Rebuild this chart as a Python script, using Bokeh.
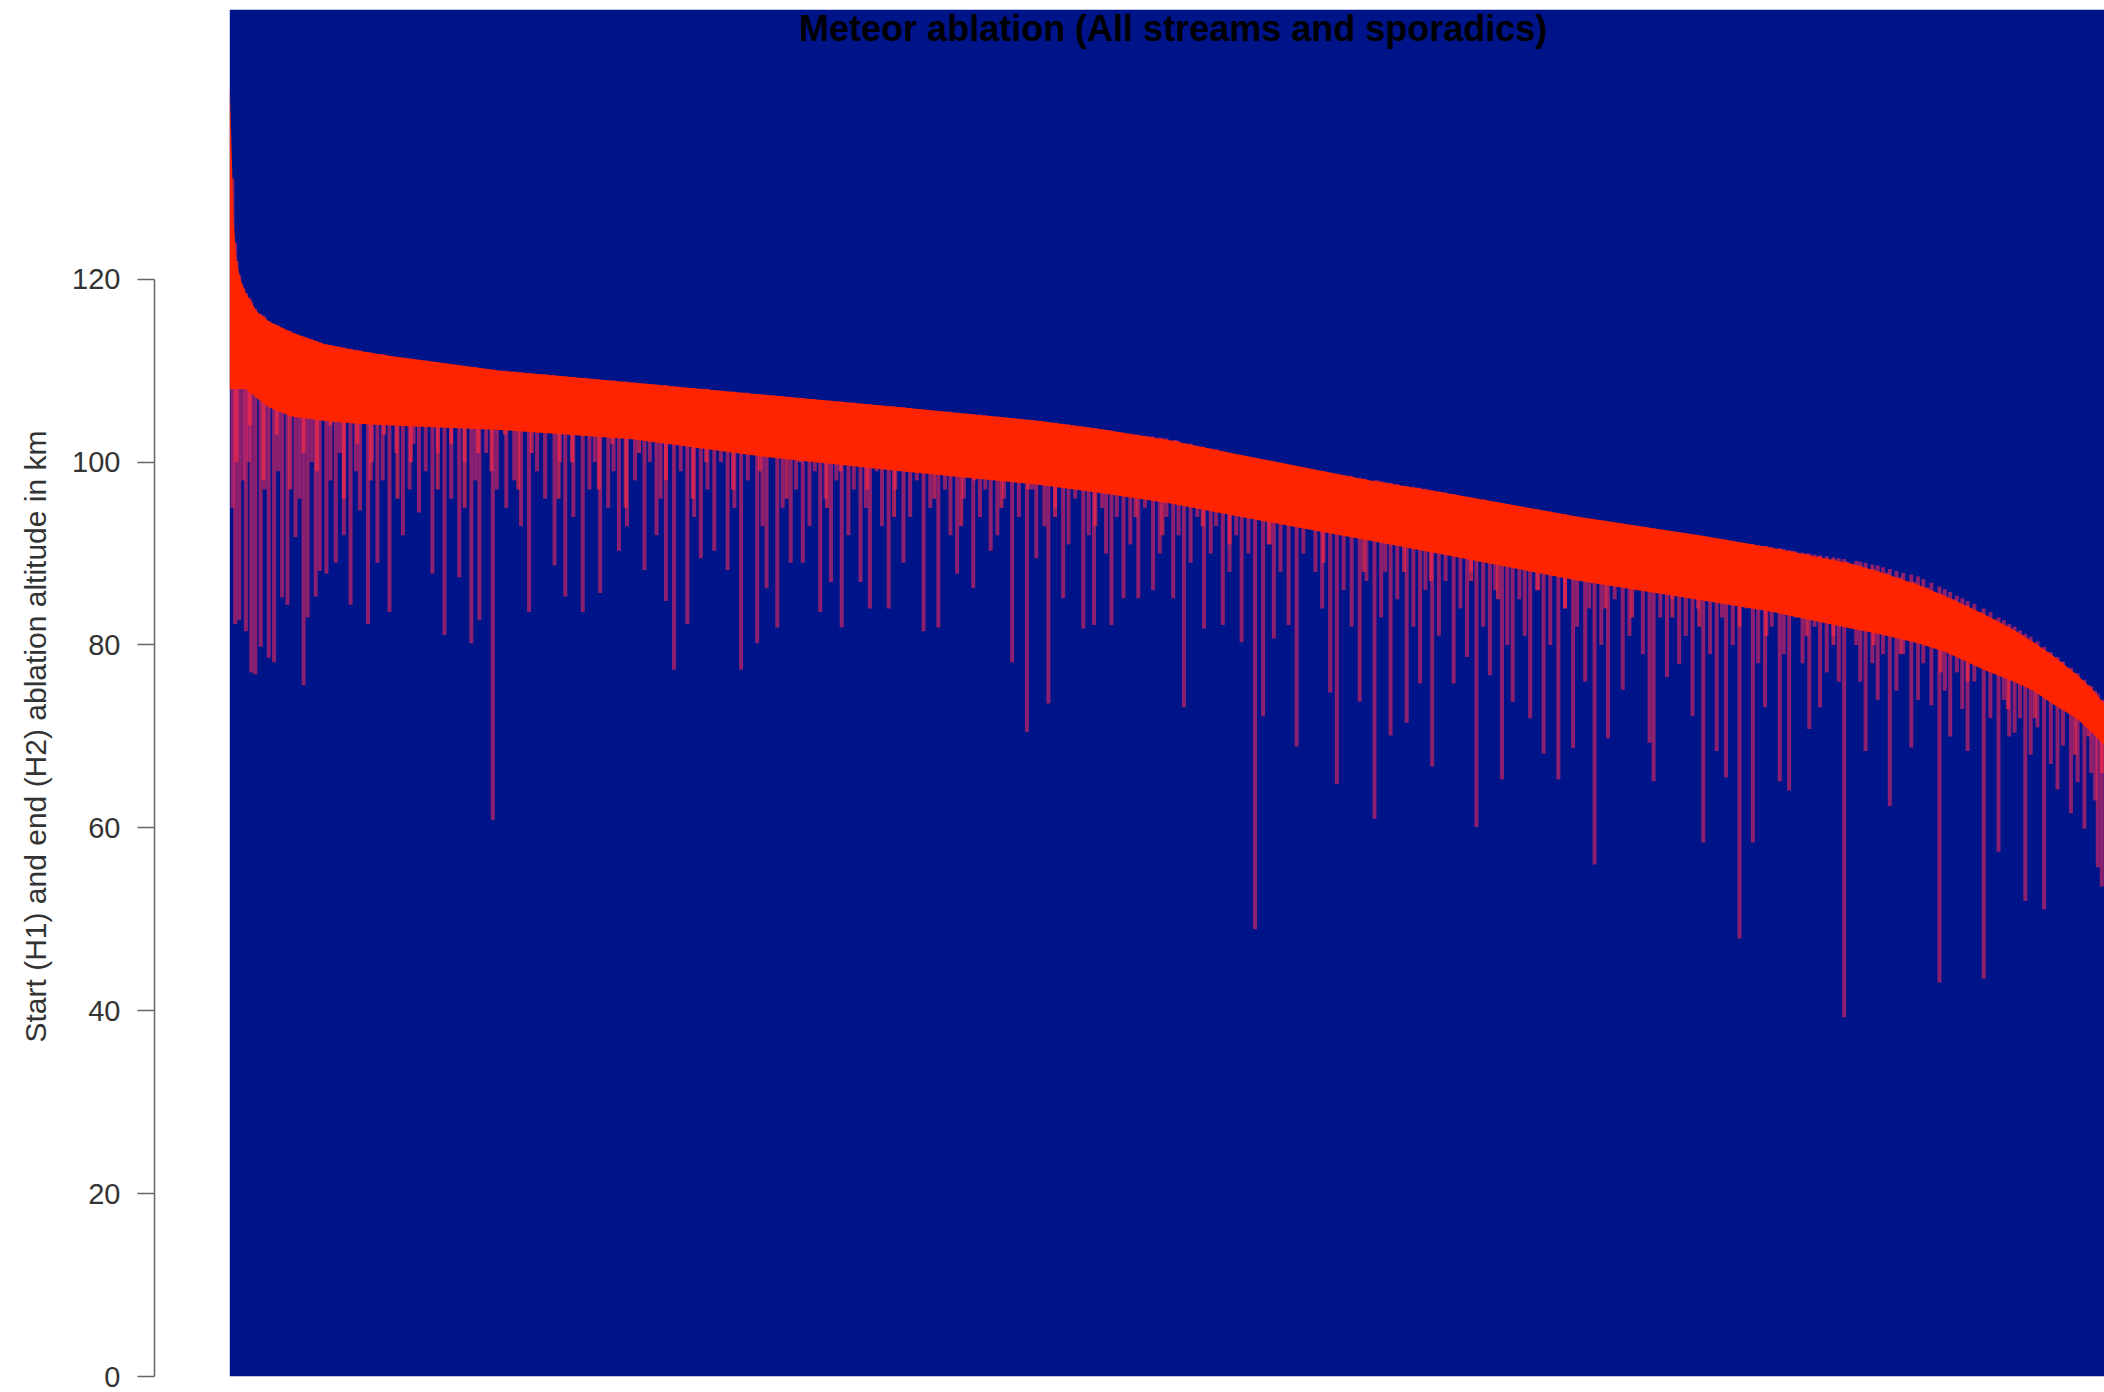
from bokeh.plotting import figure
from bokeh.models import Range1d, FixedTicker, LinearAxis, BoxAnnotation, Label, Title
from bokeh.embed import file_html
from bokeh.resources import INLINE

# ---- data ----
# meteors ranked by start altitude; rank axis is not labelled
band_rank = [0, 1, 2, 3, 5, 8, 12, 20, 29, 46, 71, 95, 120, 202, 300, 403, 500, 604, 650, 700,
             750, 805, 850, 900, 1006, 1100, 1150, 1208, 1229, 1258, 1279, 1307, 1329, 1344,
             1359, 1376, 1387, 1397]
# start altitude H1 (upper envelope)
band_top = [141, 136, 131, 126, 122, 120, 118.5, 116.5, 115.4, 114.2, 112.9, 112.2, 111.6,
            110.0, 108.7, 107.3, 106.0, 104.5, 103.6, 102.4, 100.9, 99.3, 98.0, 96.8, 94.0,
            91.9, 90.6, 88.9, 88.0, 86.6, 85.3, 83.4, 81.7, 80.3, 78.8, 76.8, 75.3, 73.5]
# end altitude H2 of the dense bulk of meteors
band_core = [108, 108, 108, 108, 108, 108, 108, 107, 106, 105, 104.5, 104.2, 104, 103.5,
             102.5, 100.5, 99, 97.5, 96.6, 95.5, 94.1, 92.6, 91.4, 90, 87, 84.8, 83.6, 81.8,
             81.2, 80.2, 79.2, 77.3, 76, 75, 73.5, 72, 70.5, 69]

# meteors ending a little below the bulk: rank, start H1, end H2
fringe_rank = list(range(5, 1400, 10))
fringe_start = [
    122, 117.8, 116.0, 115.0, 114.3, 113.7, 113.2, 112.8, 112.5, 112.2,
    112.0, 111.7, 111.5, 111.3, 111.1, 110.9, 110.7, 110.5, 110.3, 110.1,
    110.0, 109.8, 109.7, 109.6, 109.4, 109.3, 109.2, 109.0, 108.9, 108.8,
    108.6, 108.5, 108.4, 108.2, 108.1, 108.0, 107.8, 107.7, 107.6, 107.4,
    107.3, 107.1, 107.0, 106.9, 106.7, 106.6, 106.5, 106.3, 106.2, 106.1,
    105.9, 105.8, 105.6, 105.5, 105.3, 105.2, 105.0, 104.9, 104.7, 104.6,
    104.5, 104.3, 104.1, 103.9, 103.7, 103.5, 103.2, 103.0, 102.8, 102.6,
    102.4, 102.0, 101.7, 101.4, 101.0, 100.7, 100.4, 100.0, 99.7, 99.5,
    99.2, 99.0, 98.7, 98.5, 98.2, 98.0, 97.7, 97.4, 97.2, 96.9,
    96.7, 96.4, 96.1, 95.9, 95.6, 95.3, 95.0, 94.8, 94.5, 94.3,
    94.0, 93.8, 93.6, 93.3, 93.1, 92.9, 92.6, 92.4, 92.2, 91.9,
    91.7, 91.5, 91.2, 91.0, 90.8, 90.5, 90.3, 90.0, 89.7, 89.4,
    89.1, 88.7, 88.3, 87.9, 87.4, 86.9, 86.3, 85.6, 85.0, 84.3,
    83.6, 82.8, 82.0, 81.1, 80.2, 79.2, 78.1, 76.9, 75.6, 73.9,
]
fringe_end = [
    100, 104, 98, 103, 97, 101, 99, 104, 96, 102,
    98, 103, 96, 100, 104, 97, 102, 95, 101, 99,
    103, 97, 101, 104, 96, 100, 103, 97, 102, 95,
    101, 104, 98, 102, 96, 100, 103, 97, 101, 99,
    102, 96, 100, 103, 95, 99, 102, 97, 100, 94,
    99, 102, 96, 100, 93, 98, 101, 95, 99, 97,
    100, 94, 98, 101, 93, 97, 99, 94, 98, 92,
    96, 99, 93, 97, 91, 95, 97, 91, 95, 93,
    95, 89, 93, 95, 88, 92, 94, 88, 92, 87,
    91, 93, 87, 91, 85, 89, 91, 86, 89, 84,
    88, 90, 84, 88, 83, 87, 89, 83, 87, 82,
    86, 88, 82, 86, 81, 85, 87, 81, 84, 80,
    84, 86, 80, 84, 79, 82, 83, 77, 80, 76,
    79, 78, 73, 76, 72, 74, 73, 68, 70, 66,
]

# individual meteors whose trails reach lower: rank, start H1, end H2
tail_rank = [
    2, 4, 7, 10, 12, 14, 16, 19, 23, 26, 29, 33, 36, 39, 43, 49, 52, 55, 58, 61, 64, 67, 72, 75, 79, 82, 85, 90, 94, 97,
    103, 106, 110, 114, 119, 124, 129, 134, 137, 141, 146, 151, 155, 160, 165, 171, 175, 180, 183, 186, 191, 196, 199,
    206, 212, 217, 223, 229, 235, 242, 246, 250, 256, 263, 268, 272, 276, 282, 286, 290, 296, 302, 309, 313, 318, 321,
    325, 331, 336, 341, 346, 351, 356, 361, 366, 371, 376, 381, 386, 393, 397, 400,
    408, 412, 418, 422, 427, 432, 436, 440, 444, 448, 452, 456, 461, 465, 470, 474, 477, 482, 486, 491, 496, 502, 507,
    512, 517, 522, 528, 533, 537, 542, 547, 550, 554, 559, 563, 567, 572, 577, 583, 588, 594, 598, 601,
    607, 610, 615, 621, 625, 630, 636, 640, 644, 650, 653, 657, 661, 666, 671, 677, 682, 688, 693, 698, 703, 707, 711,
    716, 721, 726, 731, 735, 740, 745, 750, 754, 759, 764, 770, 774, 778, 783, 789, 795, 800,
    809, 814, 820, 825, 830, 836, 842, 847, 853, 858, 861, 865, 870, 877, 882, 887, 891, 896, 901, 906, 912, 917, 922,
    925, 929, 934, 939, 943, 948, 952, 956, 961, 965, 969, 974, 979, 984, 990, 995, 1001, 1004,
    1010, 1013, 1017, 1022, 1027, 1032, 1038, 1043, 1048, 1053, 1058, 1061, 1066, 1071, 1075, 1080, 1085, 1090, 1094,
    1098, 1103, 1108, 1112, 1115, 1120, 1125, 1130, 1135, 1139, 1144, 1149, 1155, 1158, 1162, 1167, 1172, 1177, 1181,
    1185, 1190, 1195, 1199, 1203,
    1212, 1215, 1219, 1224, 1228, 1232, 1237, 1242, 1247, 1253, 1258, 1262, 1268, 1274, 1278, 1282, 1287, 1291, 1295,
    1300, 1307, 1312, 1318, 1322, 1326, 1330, 1334, 1338, 1342, 1347, 1352, 1357, 1362, 1366, 1372, 1377, 1382, 1387,
    1390, 1392, 1395,
]
tail_start = [
    131, 124, 120.5, 119, 118.5, 118, 117.5, 116.8, 116.2, 115.8, 115.4, 115.1, 114.9, 114.7, 114.4, 114.0, 113.8,
    113.6, 113.5, 113.4, 113.2, 113.1, 112.9, 112.8, 112.7, 112.6, 112.5, 112.4, 112.3, 112.2,
    112.0, 111.9, 111.8, 111.8, 111.6, 111.5, 111.4, 111.3, 111.2, 111.2, 111.1, 111.0, 110.9, 110.8, 110.7, 110.6,
    110.5, 110.4, 110.4, 110.3, 110.2, 110.1, 110.0,
    109.9, 109.9, 109.8, 109.7, 109.6, 109.6, 109.5, 109.4, 109.4, 109.3, 109.2, 109.1, 109.1, 109.0, 108.9, 108.9,
    108.8, 108.8, 108.7, 108.6, 108.5, 108.5, 108.4, 108.4, 108.3, 108.2, 108.1, 108.1, 108.0, 108.0, 107.9, 107.8,
    107.7, 107.7, 107.6, 107.5, 107.4, 107.4, 107.3,
    107.2, 107.2, 107.1, 107.0, 107.0, 106.9, 106.8, 106.8, 106.7, 106.7, 106.6, 106.6, 106.5, 106.4, 106.4, 106.3,
    106.3, 106.2, 106.1, 106.1, 106.0, 106.0, 105.9, 105.8, 105.7, 105.7, 105.6, 105.5, 105.5, 105.4, 105.3, 105.3,
    105.2, 105.2, 105.1, 105.0, 105.0, 104.9, 104.8, 104.7, 104.6, 104.6, 104.5,
    104.4, 104.4, 104.3, 104.2, 104.1, 104.0, 103.8, 103.8, 103.7, 103.6, 103.5, 103.4, 103.3, 103.2, 103.1, 103.0,
    102.9, 102.8, 102.7, 102.6, 102.4, 102.3, 102.1, 102.0, 101.8, 101.6, 101.5, 101.3, 101.2, 101.0, 100.8, 100.7,
    100.5, 100.4, 100.2, 100.0, 99.9, 99.8, 99.6, 99.5, 99.3,
    99.1, 99.0, 98.8, 98.7, 98.6, 98.4, 98.3, 98.1, 98.0, 97.9, 97.8, 97.7, 97.6, 97.4, 97.3, 97.2, 97.1, 96.9, 96.8,
    96.6, 96.5, 96.3, 96.2, 96.1, 96.0, 95.9, 95.7, 95.6, 95.5, 95.4, 95.3, 95.1, 95.0, 94.9, 94.8, 94.7, 94.6, 94.4,
    94.3, 94.1, 94.0,
    93.9, 93.8, 93.7, 93.6, 93.5, 93.4, 93.3, 93.1, 93.0, 92.9, 92.8, 92.7, 92.6, 92.5, 92.4, 92.3, 92.2, 92.0, 91.9,
    91.8, 91.7, 91.6, 91.5, 91.5, 91.4, 91.2, 91.1, 91.0, 90.9, 90.8, 90.7, 90.6, 90.5, 90.4, 90.2, 90.1, 90.0, 89.9,
    89.8, 89.7, 89.6, 89.5, 89.4,
    89.2, 89.1, 89.0, 88.8, 88.7, 88.5, 88.3, 88.1, 87.9, 87.7, 87.5, 87.2, 86.8, 86.4, 86.1, 85.8, 85.4, 85.1, 84.8,
    84.5, 84.0, 83.6, 83.0, 82.7, 82.3, 82.0, 81.6, 81.2, 80.9, 80.4, 79.8, 79.2, 78.7, 78.2, 77.5, 76.9, 76.2, 75.5,
    75.0, 74.7, 74.0,
]
tail_end = [
    95, 82.3, 82.7, 98, 81.5, 100, 77, 76.8, 79.8, 97, 78.6, 78.1, 99, 85.2, 84.4, 91.8, 96, 75.6, 83, 100, 85.3, 88.1,
    87.8, 98, 89, 101, 92, 84.4, 99, 94.7,
    82.3, 100, 89, 98, 83.6, 101, 92, 97, 102, 94.5, 99, 87.8, 101, 81.1, 96, 87.4, 100, 80.2, 98, 82.7, 101, 60.9, 97,
    95, 98, 93, 83.6, 99, 96, 88.7, 100, 85.3, 94, 83.6, 97, 100, 85.7, 95, 99, 90.3, 93, 98, 88.2, 100, 92, 96, 84.8,
    77.3, 99, 82.3, 94, 89.5, 97, 90.3, 100, 88.2, 95, 77.3, 98, 80.2, 93, 86.2,
    81.9, 95, 89, 97, 89, 93, 99, 83.6, 96, 86.9, 98, 81.9, 92, 97, 86.9, 95, 84, 99, 93, 84, 97, 89, 94, 98, 81.5, 95,
    81.9, 97, 92, 87.8, 96, 99, 86.2, 94, 97, 90.3, 92, 96, 78.1, 94, 70.5, 97, 89.5,
    93, 73.6, 95, 85.1, 91, 96, 81.8, 92, 82.2, 95, 90, 82.2, 94, 85.1, 91, 85.1, 95, 86, 90, 94, 85.1, 92, 73.2, 89,
    94, 81.8, 90, 93, 82.2, 88, 92, 80.3, 90, 48.9, 72.2, 91, 80.7, 88, 82.2, 68.9, 90,
    88, 84, 74.8, 64.8, 86, 82, 73.8, 87, 61, 83, 88, 70.1, 85, 71.5, 82, 75.8, 86, 66.7, 81, 87, 75.8, 84, 78.7, 88,
    60.1, 82, 76.7, 86, 65.3, 80, 73.8, 85, 81, 72, 86, 68.1, 80, 65.3, 84, 68.7, 82,
    76, 84, 56, 80, 69.8, 85, 75.1, 81, 86, 79, 69.3, 65.1, 83, 76.5, 85, 77.9, 81, 72.2, 84, 58.4, 79, 68.4, 83, 65.5,
    80, 47.9, 84, 58.4, 78, 73.2, 82, 65.1, 79, 64.1, 83, 78, 70.8, 82, 73.2, 77, 81, 76, 39.3,
    80, 76, 68.4, 78, 74, 79, 62.4, 75, 79, 68.8, 74, 78, 73.4, 43.1, 75, 70, 77, 73, 68.4, 76, 43.5, 72, 57.4, 74, 70,
    70.4, 72, 52, 68, 71, 51.1, 67, 64.2, 69, 61.6, 65, 59.9, 66, 63, 55.7, 53.6,
]
y_ticks = [0, 20, 40, 60, 80, 100, 120]

title_text = "Meteor ablation (All streams and sporadics)"
ylabel_text = "Start (H1) and end (H2) ablation altitude in km"

# ---- styling ----
BLUE = "#00148A"
RED = "#FF2400"
TAIL = "#FF2A5A"
FRINGE = "#FF2A40"
FONT = "Liberation Sans"

p = figure(width=2104, height=1392, output_backend="svg", toolbar_location=None,
           x_range=Range1d(-56.1, 1397), y_range=Range1d(0, 149.5),
           x_axis_location=None, y_axis_location=None, min_border_left=154,
           min_border_right=0, min_border_top=9, min_border_bottom=16)
p.background_fill_color = "white"
p.border_fill_color = "white"
p.outline_line_color = None
p.grid.visible = False

p.add_layout(BoxAnnotation(left=band_rank[0], fill_color=BLUE, fill_alpha=1.0,
                           line_color=None, level="underlay"))

p.segment(x0=tail_rank, y0=tail_end, x1=tail_rank, y1=tail_start,
          line_color=TAIL, line_alpha=0.55, line_width=4)
p.segment(x0=fringe_rank, y0=fringe_end, x1=fringe_rank, y1=fringe_start,
          line_color=FRINGE, line_alpha=0.65, line_width=4)
p.varea(x=band_rank, y1=band_core, y2=band_top, fill_color=RED, fill_alpha=1.0)

# tick axis (R style: line only over the tick span)
ax = LinearAxis(ticker=FixedTicker(ticks=y_ticks), bounds=(y_ticks[0], y_ticks[-1]))
ax.axis_line_color = "#666666"
ax.axis_line_width = 1.5
ax.major_tick_line_color = "#666666"
ax.major_tick_line_width = 1.5
ax.major_tick_out = 17
ax.major_tick_in = 0
ax.minor_tick_line_color = None
ax.major_label_text_font = FONT
ax.major_label_text_font_size = "29px"
ax.major_label_text_color = "#333333"
ax.major_label_standoff = 17
p.add_layout(ax, "left")

# y-axis title, placed as a side title so it can sit lower than the frame centre
ytitle = Title(text=ylabel_text, align="left", offset=334, vertical_align="top",
               standoff=32, text_font=FONT, text_font_size="30px",
               text_font_style="normal", text_color="#333333")
p.add_layout(ytitle, "left")

p.add_layout(Label(x=703, y=147.4, text=title_text, text_align="center",
                   text_baseline="middle", text_font=FONT, text_font_size="36px",
                   text_font_style="bold", text_color="black"))

open("out.html", "w").write(file_html(p, INLINE))
